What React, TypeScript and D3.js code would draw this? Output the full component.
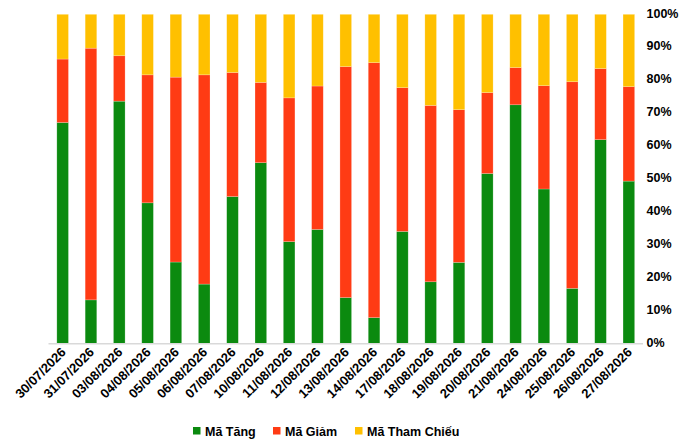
import { useEffect, useRef } from 'react';
import * as d3 from 'd3';

const DATES = [
  '30/07/2026', '31/07/2026', '03/08/2026', '04/08/2026', '05/08/2026', '06/08/2026',
  '07/08/2026', '10/08/2026', '11/08/2026', '12/08/2026', '13/08/2026', '14/08/2026',
  '17/08/2026', '18/08/2026', '19/08/2026', '20/08/2026', '21/08/2026', '24/08/2026',
  '25/08/2026', '26/08/2026', '27/08/2026'
];

// percent of codes
const TANG = [67.1, 13.2, 73.6, 42.7, 24.7, 18.0, 44.6, 54.9, 30.9, 34.6, 13.9, 7.8, 34.0, 18.7, 24.6, 51.6, 72.5, 46.9, 16.7, 61.9, 49.3];
const GIAM = [19.3, 76.5, 13.8, 38.9, 56.2, 63.6, 37.7, 24.4, 43.7, 43.6, 70.2, 77.5, 43.7, 53.6, 46.4, 24.6, 11.3, 31.4, 62.8, 21.6, 28.7];
const THAM_CHIEU = [13.6, 10.3, 12.6, 18.4, 19.1, 18.4, 17.7, 20.7, 25.4, 21.8, 15.9, 14.7, 22.3, 27.7, 29.0, 23.8, 16.2, 21.7, 20.5, 16.5, 22.0];

const SERIES = ['Mã Tăng', 'Mã Giảm', 'Mã Tham Chiếu'];
const COLORS = ['#0b8a0f', '#ff3b14', '#ffc000'];
const Y_TICKS = [0, 10, 20, 30, 40, 50, 60, 70, 80, 90, 100];

export default function App() {
  const svgRef = useRef<SVGSVGElement>(null);

  useEffect(() => {
    if (!svgRef.current) return;
    const width = 690;
    const height = 443;
    const margin = { top: 14.3, right: 47, bottom: 100, left: 48.5 };
    const font = '"Liberation Sans", Arial, sans-serif';

    const svg = d3.select(svgRef.current);
    svg.selectAll('*').remove();
    svg.attr('width', width).attr('height', height);

    const rows = DATES.map((d, i) => ({ date: d, tang: TANG[i], giam: GIAM[i], tc: THAM_CHIEU[i] }));
    const stack = d3.stack<typeof rows[number]>()
      .keys(['tang', 'giam', 'tc'])
      .offset(d3.stackOffsetExpand);
    const stacked = stack(rows);

    const x = d3.scaleBand()
      .domain(DATES)
      .range([margin.left, width - margin.right])
      .paddingInner(0.59)
      .paddingOuter(0.295);

    const y = d3.scaleLinear()
      .domain([0, 1])
      .range([343.3, margin.top]);

    // Bars
    stacked.forEach((layer, li) => {
      svg.append('g')
        .selectAll('rect')
        .data(layer)
        .enter()
        .append('rect')
        .attr('x', d => x(d.data.date) || 0)
        .attr('y', d => y(d[1]))
        .attr('width', x.bandwidth())
        .attr('height', d => y(d[0]) - y(d[1]))
        .attr('fill', COLORS[li])
        .attr('stroke', 'rgba(255,255,255,0.35)')
        .attr('stroke-width', 0.6);
    });

    // Baseline
    svg.append('line')
      .attr('x1', margin.left)
      .attr('x2', width - margin.right)
      .attr('y1', y(0) + 0.5)
      .attr('y2', y(0) + 0.5)
      .attr('stroke', '#d9d9d9')
      .attr('stroke-width', 1.5);

    // Right axis labels
    svg.append('g')
      .selectAll('text')
      .data(Y_TICKS)
      .enter()
      .append('text')
      .attr('x', 646.5)
      .attr('y', d => y(d / 100))
      .attr('dominant-baseline', 'middle')
      .attr('font-family', font)
      .attr('font-size', '12.5px')
      .attr('font-weight', 'bold')
      .attr('fill', '#000')
      .text(d => `${d}%`);

    // X labels
    svg.append('g')
      .selectAll('text')
      .data(DATES)
      .enter()
      .append('text')
      .attr('transform', d => `translate(${(x(d) || 0) + x.bandwidth() / 2 + 4}, ${353}) rotate(-45)`)
      .attr('text-anchor', 'end')
      .attr('font-family', font)
      .attr('font-size', '13px')
      .attr('font-weight', 'bold')
      .attr('fill', '#000')
      .text(d => d);

    // Legend
    const legendX = [193, 273, 355];
    const lg = svg.append('g');
    SERIES.forEach((s, i) => {
      lg.append('rect')
        .attr('x', legendX[i])
        .attr('y', 427)
        .attr('width', 7.5)
        .attr('height', 7.5)
        .attr('fill', COLORS[i]);
      lg.append('text')
        .attr('x', legendX[i] + 12)
        .attr('y', 435.5)
        .attr('font-family', font)
        .attr('font-size', '12.5px')
        .attr('font-weight', 'bold')
        .attr('fill', '#000')
        .text(s);
    });
  }, []);

  return (
    <div style={{ position: 'absolute', left: 0, top: 0, background: '#fff' }}>
      <svg ref={svgRef}></svg>
    </div>
  );
}
